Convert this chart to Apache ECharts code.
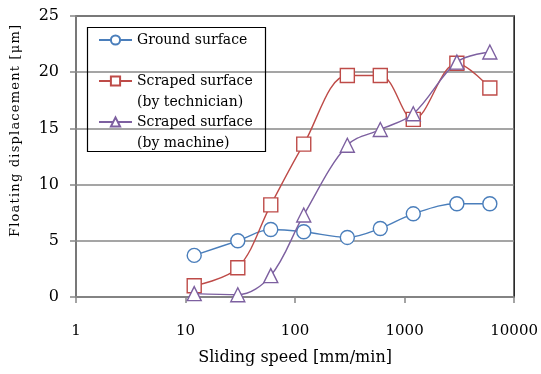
<!DOCTYPE html>
<html>
<head>
<meta charset="utf-8">
<script src="https://cdn.jsdelivr.net/npm/echarts@6/dist/echarts.min.js"></script>
<style>
  html, body { margin: 0; padding: 0; background: #fff; }
  #chart { width: 541px; height: 374px; }
</style>
</head>
<body>
<div id="chart"></div>
<script>
// sliding speed [mm/min] of each measurement
const speeds = [12, 30, 60, 120, 300, 600, 1200, 3000, 6000];
// floating displacement [μm]
const groundSurface = [3.7, 5.0, 6.0, 5.8, 5.3, 6.1, 7.4, 8.3, 8.3];
const scrapedTechnician = [1.0, 2.6, 8.2, 13.6, 19.7, 19.7, 15.8, 20.8, 18.6];
const scrapedMachine = [0.3, 0.2, 1.9, 7.3, 13.5, 14.9, 16.3, 20.9, 21.8];
const seriesNames = ["Ground surface", "Scraped surface\n(by technician)", "Scraped surface\n(by machine)"];
const xTicks = [1, 10, 100, 1000, 10000];
const yTicks = [0, 5, 10, 15, 20, 25];

const FONT = "DejaVu Serif";
const GRAY = "#878787";
const COLORS = ["#4a7ebb", "#be4b48", "#7d60a0"];
const SYMBOLS = ["circle", "rect", "triangle"];

const yName = "Floating displacement [μm]";
// spaced-out letters like the original label
const yNameRich = yName.split("").map((c) => `{c|${c}}`).join("");

const chart = echarts.init(document.getElementById("chart"), undefined, { renderer: "canvas" });

const values = [groundSurface, scrapedTechnician, scrapedMachine];

chart.setOption({
  backgroundColor: "#fff",
  animation: false,
  grid: {
    left: 76, right: 24, top: 16, bottom: 77,
    show: true, borderColor: "#111", borderWidth: 1.5,
  },
  legend: {
    orient: "vertical",
    left: 98,
    top: 8.5,
    padding: 0,
    itemGap: -22,
    itemWidth: 33,
    itemHeight: 11.5,
    data: seriesNames,
    formatter: (n) => "\n" + n + (n.includes("\n") ? "" : "\n"),
    textStyle: { fontFamily: FONT, fontSize: 14, lineHeight: 21, color: "#000" },
  },
  graphic: [{
    type: "rect",
    shape: { x: 87.5, y: 27.5, width: 178, height: 124 },
    style: { fill: "none", stroke: "#000", lineWidth: 1.2 },
    z: 10,
  }],
  xAxis: {
    type: "log",
    logBase: 10,
    min: xTicks[0],
    max: xTicks[xTicks.length - 1],
    name: "Sliding speed [mm/min]",
    nameLocation: "middle",
    nameGap: 53,
    nameTextStyle: { fontFamily: FONT, fontSize: 16, color: "#000" },
    axisLine: { lineStyle: { color: GRAY, width: 1.5 } },
    axisTick: { show: true, length: 6, lineStyle: { color: GRAY, width: 1.5 } },
    axisLabel: {
      fontFamily: FONT, fontSize: 15, color: "#000", margin: 27,
      formatter: (v) => String(Math.round(v)),
    },
    splitLine: { show: false },
    minorTick: { show: false },
  },
  yAxis: {
    type: "value",
    min: yTicks[0],
    max: yTicks[yTicks.length - 1],
    interval: 5,
    name: yNameRich,
    nameLocation: "middle",
    nameGap: 54,
    nameTextStyle: {
      fontFamily: FONT, fontSize: 13, color: "#000",
      padding: [0, 0, 0, 51],
      rich: { c: { fontFamily: FONT, fontSize: 13, color: "#000", padding: [0, 0.6, 0, 0.6] } },
    },
    axisLine: { show: true, lineStyle: { color: GRAY, width: 1.5 } },
    axisTick: { show: true, length: 6, lineStyle: { color: GRAY, width: 1.5 } },
    axisLabel: { fontFamily: FONT, fontSize: 16, color: "#000", margin: 17 },
    splitLine: { lineStyle: { color: GRAY, width: 1.5 } },
  },
  series: seriesNames.map((name, i) => ({
    name,
    type: "line",
    smooth: 0.35,
    data: speeds.map((s, k) => [s, values[i][k]]),
    symbol: SYMBOLS[i],
    symbolSize: 14,
    color: COLORS[i],
    lineStyle: { color: COLORS[i], width: 1.4 },
    itemStyle: { color: "#fff", borderColor: COLORS[i], borderWidth: 1.4 },
    emphasis: { disabled: true },
    z: 3 + i,
  })),
});
</script>
</body>
</html>
